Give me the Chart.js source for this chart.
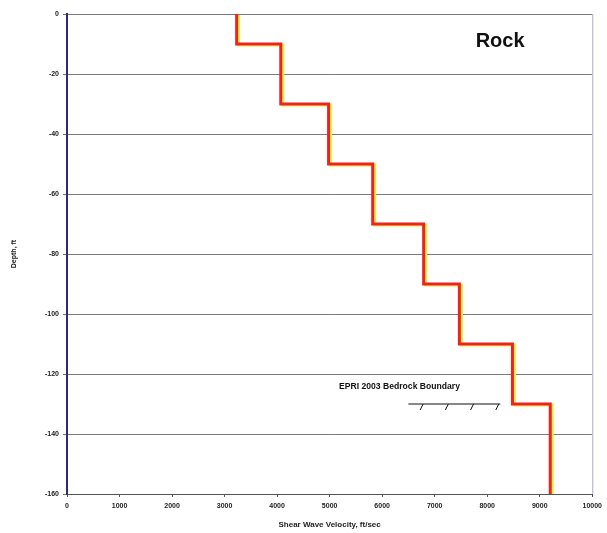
<!DOCTYPE html>
<html>
<head>
<meta charset="utf-8">
<script src="https://cdn.jsdelivr.net/npm/chart.js@4/dist/chart.umd.min.js"></script>
<style>
  html, body { margin: 0; padding: 0; background: #fff; }
  #wrap { width: 607px; height: 533px; position: relative; }
</style>
</head>
<body>
<div id="wrap"><canvas id="vsChart"></canvas></div>
<script>
// Shear wave velocity profile (ft/sec) for each layer, with layer top and bottom depths (ft)
const layerVelocity = [3230, 4070, 4980, 5820, 6790, 7470, 8480, 9200];
const layerTop      = [0, -10, -30, -50, -70, -90, -110, -130];
const layerBottom   = [-10, -30, -50, -70, -90, -110, -130, -160];

// Bedrock boundary marker
const boundaryDepth = -130;
const boundaryFrom = 6500;
const boundaryTo = 8250;
const boundaryLabel = 'EPRI 2003 Bedrock Boundary';

const xTicks = [0, 1000, 2000, 3000, 4000, 5000, 6000, 7000, 8000, 9000, 10000];
const yTicks = [0, -20, -40, -60, -80, -100, -120, -140, -160];

const tinyFont = { family: 'Liberation Sans, Arial, sans-serif', size: 7, weight: 'bold' };

// Build the stepped profile from the layer arrays
const profilePoints = [];
layerVelocity.forEach((v, i) => {
  profilePoints.push({ x: v, y: layerTop[i] });
  profilePoints.push({ x: v, y: layerBottom[i] });
});

/**
 * Yellow offset shadow under the red profile line
 */
const shadowPlugin = {
  id: 'shadowLine',
  beforeDatasetDraw(chart) {
    const ctx = chart.ctx;
    ctx.save();
    ctx.shadowColor = '#f4ee3a';
    ctx.shadowOffsetX = 2;
    ctx.shadowOffsetY = 1;
    ctx.shadowBlur = 0;
  },
  afterDatasetDraw(chart) {
    chart.ctx.restore();
  }
};

/**
 * Extras: right frame, "Rock" label and the bedrock boundary symbol
 */
const extrasPlugin = {
  id: 'extras',
  afterDraw(chart) {
    const ctx = chart.ctx;
    const xs = chart.scales.x;
    const ys = chart.scales.y;
    const area = chart.chartArea;
    ctx.save();

    // right frame line
    ctx.strokeStyle = '#a9adc4';
    ctx.lineWidth = 1;
    ctx.beginPath();
    ctx.moveTo(area.right + 0.5, area.top);
    ctx.lineTo(area.right + 0.5, area.bottom);
    ctx.stroke();

    // Rock label
    ctx.fillStyle = '#111';
    ctx.font = 'bold 20px Liberation Sans, Arial, sans-serif';
    ctx.textAlign = 'left';
    ctx.textBaseline = 'middle';
    ctx.fillText('Rock', xs.getPixelForValue(7780), ys.getPixelForValue(-9));

    // boundary text
    ctx.font = 'bold 8.6px Liberation Sans, Arial, sans-serif';
    ctx.fillText(boundaryLabel, xs.getPixelForValue(5180), ys.getPixelForValue(-124.3));

    // boundary line with hatch ticks
    const y = ys.getPixelForValue(boundaryDepth);
    const x1 = xs.getPixelForValue(boundaryFrom);
    const x2 = xs.getPixelForValue(boundaryTo);
    ctx.strokeStyle = '#111';
    ctx.lineWidth = 1;
    ctx.beginPath();
    ctx.moveTo(x1, y);
    ctx.lineTo(x2, y);
    ctx.stroke();
    for (let i = 0; i < 4; i++) {
      const hx = xs.getPixelForValue(6780 + i * 480);
      ctx.beginPath();
      ctx.moveTo(hx, y);
      ctx.lineTo(hx - 3, y + 6);
      ctx.stroke();
    }
    ctx.restore();
  }
};

new Chart(document.getElementById('vsChart'), {
  type: 'scatter',
  data: {
    datasets: [{
      label: 'Vs profile',
      data: profilePoints,
      showLine: true,
      borderColor: '#ec2224',
      borderWidth: 3,
      pointRadius: 0,
      tension: 0,
      fill: false
    }]
  },
  options: {
    responsive: true,
    maintainAspectRatio: false,
    animation: false,
    layout: { padding: { left: 0, top: 14, right: 14, bottom: 0 } },
    plugins: {
      legend: { display: false },
      tooltip: { enabled: false }
    },
    scales: {
      x: {
        type: 'linear',
        min: 0,
        max: 10000,
        afterBuildTicks(axis) { axis.ticks = xTicks.map(v => ({ value: v })); },
        afterFit(axis) { axis.height = 39; },
        grid: { drawOnChartArea: false, drawTicks: true, tickLength: 3, color: '#555' },
        border: { display: true, color: '#555', width: 1 },
        ticks: { font: tinyFont, color: '#222', padding: 5, maxRotation: 0, callback: v => String(v) },
        title: {
          display: true,
          text: 'Shear Wave Velocity, ft/sec',
          font: { family: 'Liberation Sans, Arial, sans-serif', size: 8, weight: 'bold' },
          color: '#222',
          padding: { top: 4, bottom: 3 }
        }
      },
      y: {
        type: 'linear',
        min: -160,
        max: 0,
        afterBuildTicks(axis) { axis.ticks = yTicks.map(v => ({ value: v })); },
        afterFit(axis) { axis.width = 67; },
        grid: { color: '#7a7a7a', lineWidth: 1, drawTicks: true, tickLength: 4 },
        border: { display: true, color: '#2c2c6e', width: 2 },
        ticks: { font: tinyFont, color: '#222', padding: 4, callback: v => String(v) },
        title: {
          display: true,
          text: 'Depth, ft',
          font: tinyFont,
          color: '#222',
          padding: { top: 10, bottom: 0 }
        }
      }
    }
  },
  plugins: [shadowPlugin, extrasPlugin]
});
</script>
</body>
</html>
